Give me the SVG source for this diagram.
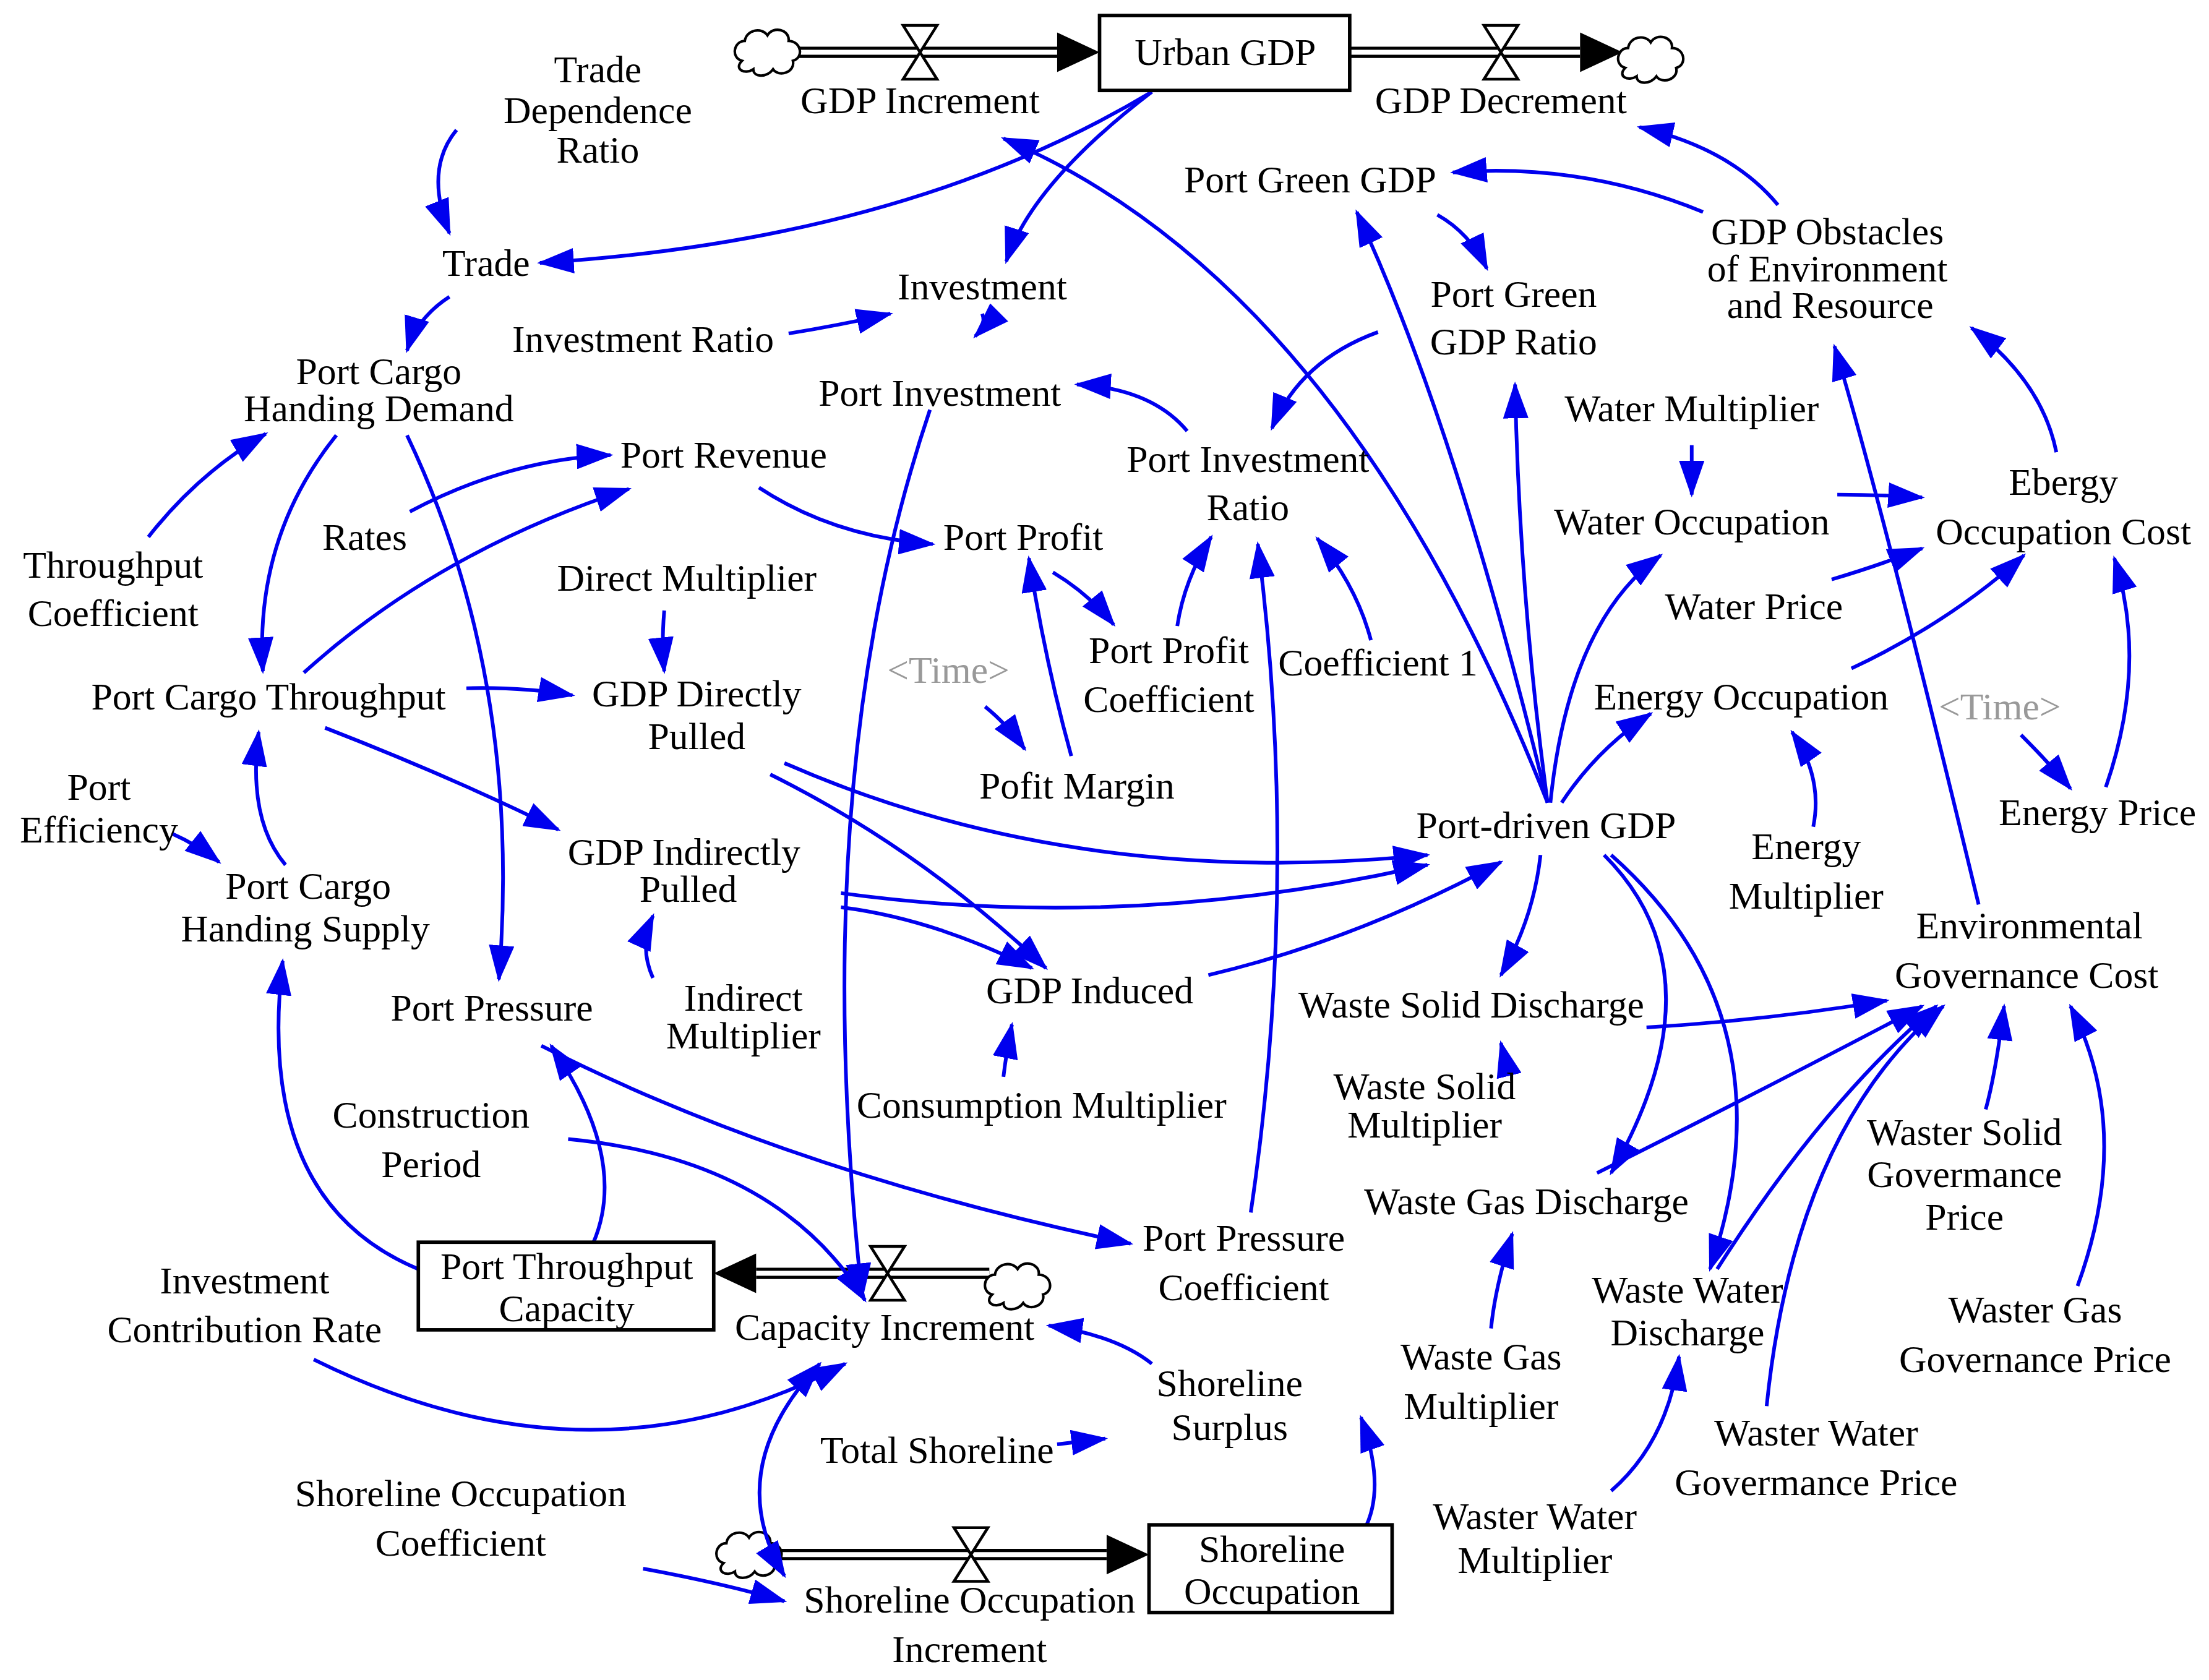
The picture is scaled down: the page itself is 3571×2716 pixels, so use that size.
<svg xmlns="http://www.w3.org/2000/svg" width="3571" height="2716" viewBox="0 0 3571 2716">
<style>
text{font-family:"Liberation Serif","Times New Roman",serif;font-size:27px;fill:#000;text-anchor:middle}
.g{fill:#999}
.c{fill:none;stroke:#0000ee;stroke-width:2.6;marker-end:url(#a)}
.box{fill:#fff;stroke:#000;stroke-width:2.5}
.po{fill:none;stroke:#000;stroke-width:8}
.pi{fill:none;stroke:#fff;stroke-width:3.5}
.v{fill:#fff;stroke:#000;stroke-width:2}
.cl{fill:#fff;stroke:#000;stroke-width:1.8}
</style>
<defs>
<marker id="a" viewBox="0 0 26 18" refX="24" refY="9" markerWidth="26" markerHeight="18" markerUnits="userSpaceOnUse" orient="auto-start-reverse"><path d="M0,0 L26,9 L0,18 z" fill="#0000ee"/></marker>
<path id="cloud" d="M-18,6 C-26,4 -24,-8 -16,-8 C-15,-16 -4,-18 0,-12 C4,-19 16,-16 15,-8 C24,-8 26,4 18,6 C20,14 8,18 4,12 C0,18 -10,18 -10,12 C-16,16 -24,12 -18,6 z"/>
</defs>
<rect width="3571" height="2716" fill="#fff"/>
<g transform="scale(2.2847)">
<g id="flows">
<path class="po" d="M565,37 L748,37"/><path class="pi" d="M565,37 L750,37"/><path d="M748,23 L778,37 L748,51 z"/>
<path class="po" d="M955,37 L1118,37"/><path class="pi" d="M955,37 L1120,37"/><path d="M1118,23 L1148,37 L1118,51 z"/>
<path class="po" d="M535,901 L700,901"/><path class="pi" d="M533,901 L700,901"/><path d="M535,887 L505,901 L535,915 z"/>
<path class="po" d="M550,1100 L783,1100"/><path class="pi" d="M550,1100 L785,1100"/><path d="M783,1086 L813,1100 L783,1114 z"/>
<path class="v" d="M639,18 L663,18 L639,56 L663,56 z"/>
<path class="v" d="M1050,18 L1074,18 L1050,56 L1074,56 z"/>
<path class="v" d="M616,882 L640,882 L616,920 L640,920 z"/>
<path class="v" d="M675,1081 L699,1081 L675,1119 L699,1119 z"/>
<use href="#cloud" class="cl" x="543" y="37"/>
<use href="#cloud" class="cl" x="1168" y="42"/>
<use href="#cloud" class="cl" x="720" y="910"/>
<use href="#cloud" class="cl" x="530" y="1100"/>
</g>
<g id="connectors">
<path class="c" d="M815,65 Q640,170 382,186"/>
<path class="c" d="M815,65 Q730,130 712,185"/>
<path class="c" d="M323,92 Q300,120 318,165"/>
<path class="c" d="M318,210 Q295,225 288,248"/>
<path class="c" d="M558,236 Q595,230 630,222"/>
<path class="c" d="M695,222 Q698,230 690,238"/>
<path class="c" d="M658,290 Q570,550 610,918"/>
<path class="c" d="M840,305 Q815,275 762,272"/>
<path class="c" d="M975,235 Q920,255 900,303"/>
<path class="c" d="M1095,568 Q950,200 710,98"/>
<path class="c" d="M1095,568 Q1030,300 960,150"/>
<path class="c" d="M1095,568 Q1075,420 1072,272"/>
<path class="c" d="M1017,152 Q1040,165 1052,190"/>
<path class="c" d="M1205,150 Q1120,115 1028,122"/>
<path class="c" d="M1258,145 Q1225,105 1160,90"/>
<path class="c" d="M1400,640 Q1330,350 1298,245"/>
<path class="c" d="M1455,320 Q1445,270 1395,232"/>
<path class="c" d="M1097,568 Q1110,440 1175,393"/>
<path class="c" d="M1105,568 Q1130,530 1168,505"/>
<path class="c" d="M1197,315 L1197,350"/>
<path class="c" d="M1300,350 Q1330,350 1360,352"/>
<path class="c" d="M1296,410 Q1330,400 1360,388"/>
<path class="c" d="M1310,473 Q1380,440 1432,393"/>
<path class="c" d="M1490,557 Q1520,470 1496,395"/>
<path class="c" d="M1430,520 Q1450,540 1465,558"/>
<path class="c" d="M1283,585 Q1290,550 1268,518"/>
<path class="c" d="M238,308 Q180,380 186,475"/>
<path class="c" d="M105,380 Q140,335 188,307"/>
<path class="c" d="M288,308 Q370,480 353,693"/>
<path class="c" d="M290,362 Q360,325 432,322"/>
<path class="c" d="M215,476 Q310,390 445,346"/>
<path class="c" d="M537,345 Q590,380 660,385"/>
<path class="c" d="M745,405 Q770,420 788,442"/>
<path class="c" d="M758,535 Q740,470 728,395"/>
<path class="c" d="M697,500 Q712,512 725,530"/>
<path class="c" d="M833,443 Q838,410 857,380"/>
<path class="c" d="M970,453 Q960,415 932,381"/>
<path class="c" d="M885,858 Q920,620 890,385"/>
<path class="c" d="M470,432 Q468,455 470,475"/>
<path class="c" d="M330,487 Q370,486 405,492"/>
<path class="c" d="M230,515 Q320,550 395,587"/>
<path class="c" d="M555,540 Q760,630 1010,605"/>
<path class="c" d="M545,548 Q650,600 740,685"/>
<path class="c" d="M595,632 Q800,660 1010,612"/>
<path class="c" d="M595,642 Q660,650 730,685"/>
<path class="c" d="M855,690 Q960,665 1062,610"/>
<path class="c" d="M462,692 Q452,670 462,648"/>
<path class="c" d="M710,762 Q712,745 716,725"/>
<path class="c" d="M122,590 Q140,598 155,610"/>
<path class="c" d="M202,612 Q175,580 183,518"/>
<path class="c" d="M296,898 Q180,850 200,680"/>
<path class="c" d="M420,879 Q445,820 390,740"/>
<path class="c" d="M383,740 Q560,830 800,880"/>
<path class="c" d="M402,806 Q550,820 612,920"/>
<path class="c" d="M222,962 Q420,1060 598,965"/>
<path class="c" d="M815,965 Q790,945 742,938"/>
<path class="c" style="marker-start:url(#a)" d="M580,965 Q510,1040 555,1115"/>
<path class="c" d="M748,1022 Q765,1020 782,1018"/>
<path class="c" d="M967,1079 Q980,1050 963,1003"/>
<path class="c" d="M455,1110 Q510,1120 555,1133"/>
<path class="c" d="M1090,605 Q1085,650 1062,690"/>
<path class="c" d="M1135,605 Q1220,690 1140,830"/>
<path class="c" d="M1140,605 Q1270,720 1210,898"/>
<path class="c" d="M1062,762 Q1065,750 1062,738"/>
<path class="c" d="M1165,727 Q1250,722 1335,708"/>
<path class="c" d="M1130,830 Q1250,770 1360,712"/>
<path class="c" d="M1215,898 Q1290,780 1370,712"/>
<path class="c" d="M1055,940 Q1058,910 1070,873"/>
<path class="c" d="M1140,1055 Q1180,1020 1188,960"/>
<path class="c" d="M1405,785 Q1412,760 1418,712"/>
<path class="c" d="M1470,910 Q1510,800 1465,712"/>
<path class="c" d="M1250,995 Q1270,800 1375,712"/>
</g>
<g id="n-urban"><rect class="box" x="778" y="11" width="177" height="53"/><text x="867" y="46">Urban GDP</text></g>
<g id="n-ptc"><rect class="box" x="296" y="879" width="209" height="62"/><text x="401" y="905">Port Throughput</text><text x="401" y="935">Capacity</text></g>
<g id="n-so"><rect class="box" x="813" y="1079" width="172" height="62"/><text x="900" y="1105">Shoreline</text><text x="900" y="1135">Occupation</text></g>
<g id="n-gi"><text x="651" y="80">GDP Increment</text></g>
<g id="n-gd"><text x="1062" y="80">GDP Decrement</text></g>
<g id="n-tdr"><text x="423" y="58">Trade</text><text x="423" y="87">Dependence</text><text x="423" y="115">Ratio</text></g>
<g id="n-trade"><text x="344" y="195">Trade</text></g>
<g id="n-inv"><text x="695" y="212">Investment</text></g>
<g id="n-ir"><text x="455" y="249">Investment Ratio</text></g>
<g id="n-pi"><text x="665" y="287">Port Investment</text></g>
<g id="n-pgg"><text x="927" y="136">Port Green GDP</text></g>
<g id="n-pggr"><text x="1071" y="217">Port Green</text><text x="1071" y="251">GDP Ratio</text></g>
<g id="n-obs"><text x="1293" y="173">GDP Obstacles</text><text x="1293" y="199">of Environment</text><text x="1295" y="225">and Resource</text></g>
<g id="n-pchd"><text x="268" y="272">Port Cargo</text><text x="268" y="298">Handing Demand</text></g>
<g id="n-pr"><text x="512" y="331">Port Revenue</text></g>
<g id="n-pir"><text x="883" y="334">Port Investment</text><text x="883" y="368">Ratio</text></g>
<g id="n-wm"><text x="1197" y="298">Water Multiplier</text></g>
<g id="n-wo"><text x="1197" y="378">Water Occupation</text></g>
<g id="n-eoc"><text x="1460" y="350">Ebergy</text><text x="1460" y="385">Occupation Cost</text></g>
<g id="n-rates"><text x="258" y="389">Rates</text></g>
<g id="n-pp"><text x="724" y="389">Port Profit</text></g>
<g id="n-tc"><text x="80" y="409">Throughput</text><text x="80" y="443">Coefficient</text></g>
<g id="n-dm"><text x="486" y="418">Direct Multiplier</text></g>
<g id="n-wp"><text x="1241" y="438">Water Price</text></g>
<g id="n-time1"><text class="g" x="671" y="483">&lt;Time&gt;</text></g>
<g id="n-ppc"><text x="827" y="469">Port Profit</text><text x="827" y="504">Coefficient</text></g>
<g id="n-c1"><text x="975" y="478">Coefficient 1</text></g>
<g id="n-pct"><text x="190" y="502">Port Cargo Throughput</text></g>
<g id="n-gdp-dp"><text x="493" y="500">GDP Directly</text><text x="493" y="530">Pulled</text></g>
<g id="n-eo"><text x="1232" y="502">Energy Occupation</text></g>
<g id="n-time2"><text class="g" x="1415" y="509">&lt;Time&gt;</text></g>
<g id="n-pm"><text x="762" y="565">Pofit Margin</text></g>
<g id="n-pe"><text x="70" y="566">Port</text><text x="70" y="596">Efficiency</text></g>
<g id="n-pdg"><text x="1094" y="593">Port-driven GDP</text></g>
<g id="n-ep"><text x="1484" y="584">Energy Price</text></g>
<g id="n-gip"><text x="484" y="612">GDP Indirectly</text><text x="487" y="638">Pulled</text></g>
<g id="n-em"><text x="1278" y="608">Energy</text><text x="1278" y="643">Multiplier</text></g>
<g id="n-pchs"><text x="218" y="636">Port Cargo</text><text x="216" y="666">Handing Supply</text></g>
<g id="n-egc"><text x="1436" y="664">Environmental</text><text x="1434" y="699">Governance Cost</text></g>
<g id="n-gind"><text x="771" y="710">GDP Induced</text></g>
<g id="n-ppr"><text x="348" y="722">Port Pressure</text></g>
<g id="n-im"><text x="526" y="715">Indirect</text><text x="526" y="742">Multiplier</text></g>
<g id="n-wsd"><text x="1041" y="720">Waste Solid Discharge</text></g>
<g id="n-wsm"><text x="1008" y="778">Waste Solid</text><text x="1008" y="805">Multiplier</text></g>
<g id="n-cm"><text x="737" y="791">Consumption Multiplier</text></g>
<g id="n-cp"><text x="305" y="798">Construction</text><text x="305" y="833">Period</text></g>
<g id="n-wsgp"><text x="1390" y="810">Waster Solid</text><text x="1390" y="840">Govermance</text><text x="1390" y="870">Price</text></g>
<g id="n-wgd"><text x="1080" y="859">Waste Gas Discharge</text></g>
<g id="n-ppco"><text x="880" y="885">Port Pressure</text><text x="880" y="920">Coefficient</text></g>
<g id="n-icr"><text x="173" y="915">Investment</text><text x="173" y="950">Contribution Rate</text></g>
<g id="n-ci"><text x="626" y="948">Capacity Increment</text></g>
<g id="n-wwd"><text x="1194" y="922">Waste Water</text><text x="1194" y="952">Discharge</text></g>
<g id="n-wggp"><text x="1440" y="936">Waster Gas</text><text x="1440" y="971">Governance Price</text></g>
<g id="n-ss"><text x="870" y="988">Shoreline</text><text x="870" y="1019">Surplus</text></g>
<g id="n-wgm"><text x="1048" y="969">Waste Gas</text><text x="1048" y="1004">Multiplier</text></g>
<g id="n-ts"><text x="663" y="1035">Total Shoreline</text></g>
<g id="n-wwgp"><text x="1285" y="1023">Waster Water</text><text x="1285" y="1058">Govermance Price</text></g>
<g id="n-soc"><text x="326" y="1066">Shoreline Occupation</text><text x="326" y="1101">Coefficient</text></g>
<g id="n-soi"><text x="686" y="1141">Shoreline Occupation</text><text x="686" y="1176">Increment</text></g>
<g id="n-wwm"><text x="1086" y="1082">Waster Water</text><text x="1086" y="1113">Multiplier</text></g>
</g>
</svg>
